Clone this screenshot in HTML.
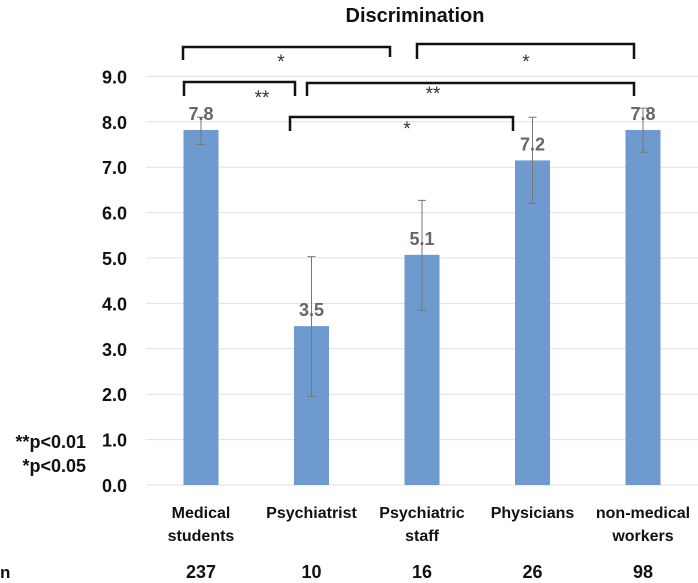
<!DOCTYPE html>
<html><head><meta charset="utf-8"><style>
body{margin:0;background:#fff;}
svg text{font-family:"Liberation Sans",sans-serif;}
</style></head><body>
<svg id="chart" width="698" height="578" xmlns="http://www.w3.org/2000/svg">
<text x="415" y="22" text-anchor="middle" font-size="20" font-weight="bold" fill="#111">Discrimination</text>
<g id="grid"></g><g id="bars"></g><g id="ylabels"></g><g id="xlabels"></g>
<g id="brackets" fill="none" stroke="#111" stroke-width="2.5"></g>
<text x="86" y="448" text-anchor="end" font-size="18" font-weight="bold" fill="#111">**p&lt;0.01</text>
<text x="86" y="472" text-anchor="end" font-size="18" font-weight="bold" fill="#111">*p&lt;0.05</text>
<text x="0" y="578" font-size="17" font-weight="bold" fill="#111">n</text>
</svg>
<script>
const categories=[["Medical","students"],["Psychiatrist"],["Psychiatric","staff"],["Physicians"],["non-medical","workers"]];
const values=[7.82,3.5,5.07,7.15,7.82];
const errLow=[7.5,1.95,3.85,6.2,7.33];
const errHigh=[8.1,5.03,6.27,8.1,8.3];
const labels=["7.8","3.5","5.1","7.2","7.8"];
const nValues=[237,10,16,26,98];
const yTicks=[0,1,2,3,4,5,6,7,8,9];
const NS="http://www.w3.org/2000/svg";
const y=v=>485-v*45.4;
const x=i=>201+i*110.5;
function mk(tag,attrs,parent,txt){const e=document.createElementNS(NS,tag);for(const k in attrs)e.setAttribute(k,attrs[k]);if(txt!==undefined)e.textContent=txt;document.getElementById(parent).appendChild(e);return e;}
yTicks.forEach(t=>{
 const l=mk('line',{x1:146,x2:698,y1:y(t),y2:y(t),stroke:'#e0e0e0','stroke-width':1},'grid');
 
 
 const tx=mk('text',{x:127,y:y(t)+7,'text-anchor':'end','font-size':18,'font-weight':'bold',fill:'#111'},'ylabels',t.toFixed(1));
 
 
});
values.forEach((v,i)=>{
 const r=mk('rect',{x:x(i)-17.5,y:y(v),width:35,height:y(0)-y(v),fill:'#6f9acf'},'bars');
 
 
 const e=mk('path',{d:`M${x(i)},${y(errLow[i])}V${y(errHigh[i])}M${x(i)-4},${y(errLow[i])}H${x(i)+4}M${x(i)-4},${y(errHigh[i])}H${x(i)+4}`,stroke:'#777','stroke-width':1,fill:'none'},'bars');
 
 
 const vl=mk('text',{x:x(i),y:y(v)-10,'text-anchor':'middle','font-size':18,'font-weight':'bold',fill:'#666'},'bars',labels[i]);
 
 
 categories[i].forEach((s,j)=>{
  const c=mk('text',{x:x(i),y:518+j*23,'text-anchor':'middle','font-size':16,'font-weight':'bold',fill:'#111'},'xlabels',s);
  
  
 });
 const n=mk('text',{x:x(i),y:578,'text-anchor':'middle','font-size':18,'font-weight':'bold',fill:'#111'},'xlabels',nValues[i]);
 
 
});
const br=[[183,390,47,60,57,'*',281,68],[417,634,44,59,59,'*',526,68],[184,295,82,96,96,'**',262,104],[307,634,83,96,96,'**',433,100],[290,513,117,131,131,'*',407,135]];
br.forEach(b=>{
 const p=mk('path',{d:`M${b[0]},${b[3]}V${b[2]}H${b[1]}V${b[4]}`},'brackets');
 
 
 const t=mk('text',{x:b[6],y:b[7],'text-anchor':'middle','font-size':19,fill:'#333',stroke:'none'},'brackets',b[5]);
 
 
});
</script>
</body></html>
